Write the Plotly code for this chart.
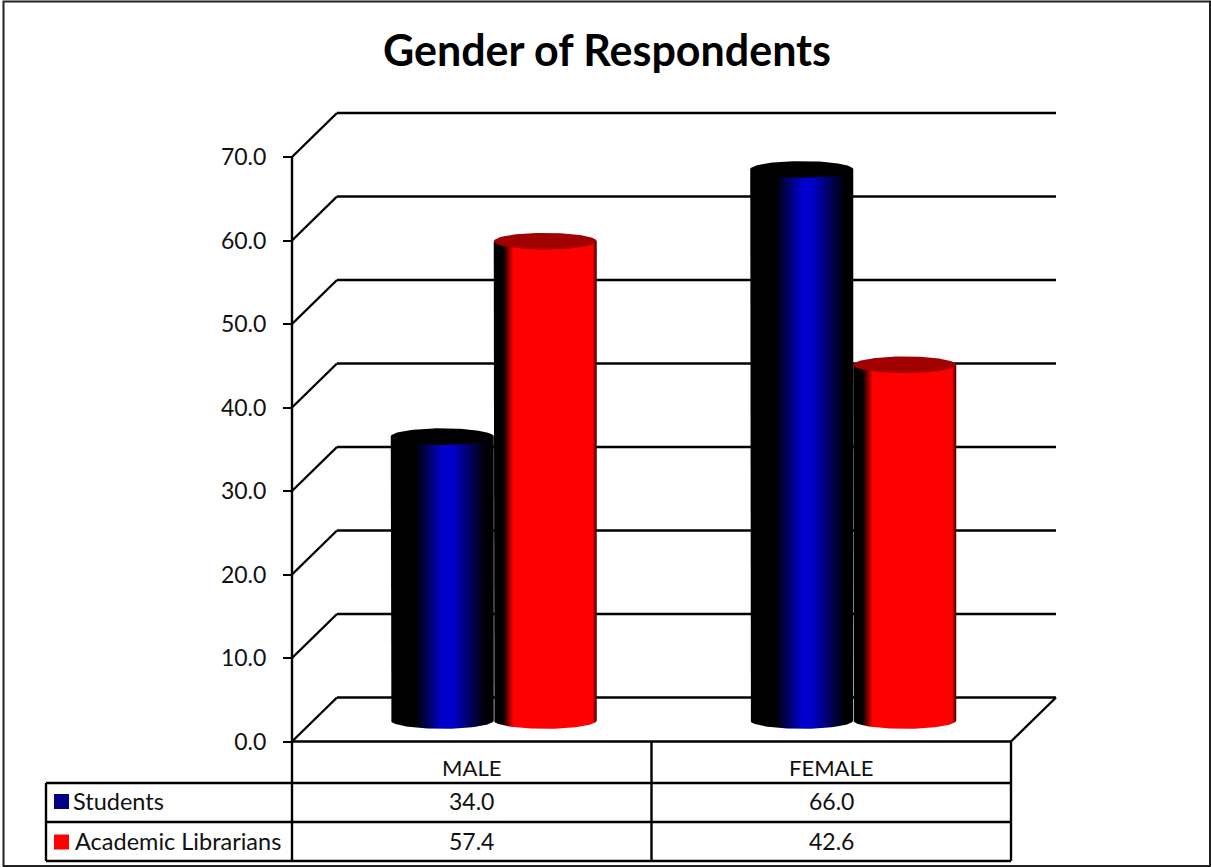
import numpy as np
import plotly.graph_objects as go

categories = ["MALE", "FEMALE"]
students = [34.0, 66.0]
librarians = [57.4, 42.6]
y_ticks = [0, 10, 20, 30, 40, 50, 60, 70]
title = "Gender of Respondents"
FONT = "Lato"

W, H = 1211, 867
X0, XU = 292.0, 359.5       # pixel of category edge 0, pixels per category
Y0, YU = 741.5, 8.35        # pixel of value 0, pixels per value unit
DX, DY = 45.0 / XU, 44.0 / YU  # depth of the 3D box in data units


def xd(px):
    return (px - X0) / XU


def yd(py):
    return (Y0 - py) / YU


fig = go.Figure()
shapes = []


def seg(x0, y0, x1, y1, w=2.4, color="black"):
    shapes.append(dict(type="line", xref="x", yref="y", x0=x0, y0=y0, x1=x1, y1=y1,
                       line=dict(color=color, width=w), layer="below"))


# walls and grid
for v in y_ticks:
    seg(0, v, DX, v + DY)
    seg(DX, v + DY, 2 + DX, v + DY)
seg(0, 0, 2, 0)
seg(2, 0, 2 + DX, DY)
seg(0, 0, 0, y_ticks[-1])

# data table
seg(xd(46), yd(783), 2, yd(783))
seg(xd(46), yd(822), 2, yd(822))
seg(xd(46), yd(861), 2, yd(861))
seg(xd(46), yd(783), xd(46), yd(861))
seg(0, 0, 0, yd(861))
seg(1, 0, 1, yd(861))
seg(2, 0, 2, yd(861))

# outer frame
shapes.append(dict(type="rect", xref="paper", yref="paper", x0=3.5 / W, x1=1210 / W,
                   y0=1 - 866 / H, y1=1 - 1.5 / H, line=dict(color="#222222", width=2),
                   layer="below"))


def cylinder(center, value, stops, top_color):
    rx, ry = 51.5 / XU, 8.3 / YU
    base = 21.0 / YU
    t = np.linspace(0, np.pi, 60)
    xs = np.concatenate([[center - rx], center - rx * np.cos(t), [center + rx]])
    ys = np.concatenate([[base + value], base - ry * np.sin(t), [base + value]])
    fig.add_trace(go.Scatter(x=xs, y=ys, mode="lines", fill="toself", line=dict(width=0),
                             fillgradient=dict(type="horizontal", colorscale=stops),
                             hoverinfo="skip", showlegend=False))
    t2 = np.linspace(0, 2 * np.pi, 120)
    fig.add_trace(go.Scatter(x=center + rx * np.cos(t2), y=base + value + ry * np.sin(t2),
                             mode="lines", fill="toself", fillcolor=top_color,
                             line=dict(width=0), hoverinfo="skip", showlegend=False))


blue_stops = [[0, "#000000"], [0.24, "#000000"], [0.5, "#0000CC"], [0.6, "#0000CC"],
              [0.92, "#000000"], [1, "#000000"]]
red_stops = [[0, "#000000"], [0.09, "#000000"], [0.19, "#FF0000"], [0.96, "#FF0000"], [1, "#300000"]]

half = 51.5 / XU
for i in range(len(categories)):
    cx = i + 0.5 + 22.0 / XU
    cylinder(cx - half, students[i], blue_stops, "#000000")
    cylinder(cx + half, librarians[i], red_stops, "#A00000")

# legend keys inside the table
fig.add_trace(go.Scatter(x=[xd(61.5)], y=[yd(801.5)], mode="markers",
                         marker=dict(symbol="square", size=15, color="#000080"),
                         hoverinfo="skip", showlegend=False))
fig.add_trace(go.Scatter(x=[xd(61.5)], y=[yd(842)], mode="markers",
                         marker=dict(symbol="square", size=15, color="#FF0000"),
                         hoverinfo="skip", showlegend=False))

annotations = []


def label(x, y, text, anchor="center", size=23.5):
    annotations.append(dict(x=x, y=y, xref="x", yref="y", text=text, showarrow=False,
                            xanchor=anchor, yanchor="middle",
                            font=dict(family=FONT, size=size, color="#111111")))


label(xd(71), yd(800.5), "Students", "left")
label(xd(73), yd(841), "Academic Librarians", "left")
for i in range(len(categories)):
    label(i + 0.5, yd(801), f"{students[i]:.1f}", size=23)
    label(i + 0.5, yd(841), f"{librarians[i]:.1f}", size=23)

fig.update_layout(
    width=W, height=H, margin=dict(l=0, r=0, t=0, b=0),
    paper_bgcolor="white", plot_bgcolor="white", showlegend=False,
    shapes=shapes, annotations=annotations,
    title=dict(text=f"<b>{title}</b>", x=607 / W, xanchor="center", y=1 - 51 / H, yanchor="middle",
               font=dict(family=FONT, size=43, color="black")),
    xaxis=dict(range=[xd(0), xd(W)], domain=[0, 1], anchor="free", position=1 - 741.5 / H,
               tickmode="array", tickvals=[i + 0.5 for i in range(len(categories))],
               ticktext=categories, ticks="", showgrid=False, zeroline=False, showline=False,
               ticklabelstandoff=11, tickfont=dict(family=FONT, size=22, color="#111111")),
    yaxis=dict(range=[yd(H), yd(0)], domain=[0, 1], anchor="free", position=X0 / W,
               tickmode="array", tickvals=y_ticks, ticktext=[f"{v:.1f}" for v in y_ticks],
               ticks="outside", ticklen=9, tickwidth=2.4, tickcolor="black",
               showgrid=False, zeroline=False, showline=False, ticklabelstandoff=12,
               tickfont=dict(family=FONT, size=23, color="#111111")),
)

fig.write_html("out.html", config=dict(displayModeBar=False),
               post_script="document.body.style.margin='0';document.body.style.overflow='hidden';")
